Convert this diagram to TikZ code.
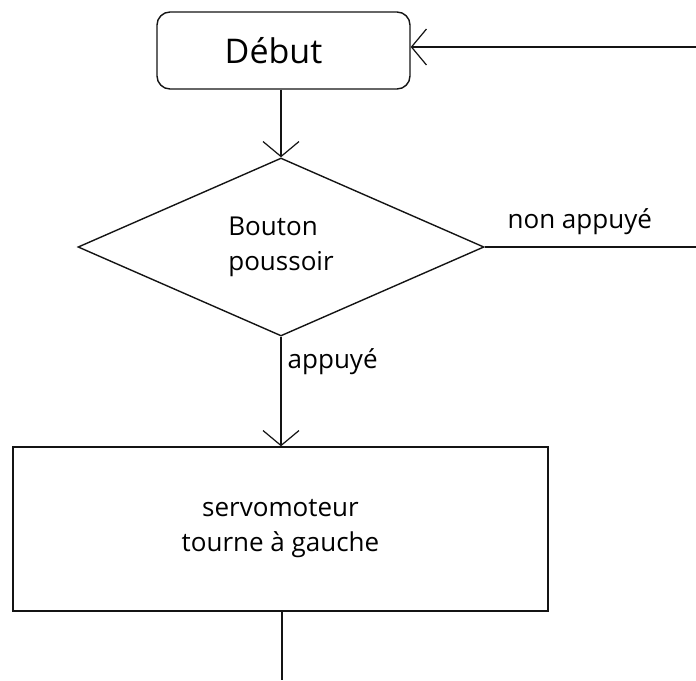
\documentclass[tikz,border=0pt]{standalone}
\usepackage{fontspec}
\setmainfont{Open Sans}
\usetikzlibrary{arrows.meta,positioning,calc,shapes.geometric}
\definecolor{flowline}{RGB}{20,20,20}
\tikzset{
  flow box/.style={
    draw=flowline,
    line width=1.4pt,
    inner sep=0pt,
    align=center,
    font=\fontsize{26}{35}\selectfont,
  },
  flow arrow/.style={
    -{Straight Barb[length=15pt,width=36pt,line width=1.2pt]},
    line width=1.4pt,
    draw=flowline,
  },
  flow line/.style={
    line width=1.4pt,
    draw=flowline,
  },
  flow label/.style={
    font=\fontsize{26}{35}\selectfont,
    inner sep=0pt,
  },
}

\begin{document}
\begin{tikzpicture}[x=1pt,y=-1pt]
  \useasboundingbox (0,0) rectangle (696,680);

  \node[flow box, rounded corners=13pt, minimum width=253pt, minimum height=77pt,
    font=\fontsize{34}{40}\selectfont] (debut) at (283.5,50.5) {Début\hspace*{20pt}};
  \node[flow box, diamond, minimum width=406pt, minimum height=178pt, align=left] (bouton) at (281,247)
    {Bouton\\poussoir};
  \node[flow box, minimum width=535pt, minimum height=164pt] (servo) at (280.5,529)
    {servomoteur\\tourne à gauche};

  \coordinate (retour) at (696,47);
  \coordinate (sortie) at (696,247);
  \coordinate (fin) at (282,680);

  % flow
  \draw[flow arrow] (retour) -- (debut.east |- retour);
  \draw[flow arrow] (debut.south -| bouton.north) -- (bouton.north);
  \draw[flow line] (bouton.east) -- (sortie)
    node[flow label, pos=0.45, above=12pt] (nonlab) {non appuyé};
  \draw[flow arrow] (bouton.south) -- (servo.north -| bouton.south)
    node[flow label, pos=0.1, anchor=north west, xshift=6pt] (oklab) {appuyé};
  \draw[flow line] (servo.south -| fin) -- (fin);
\end{tikzpicture}
\end{document}
